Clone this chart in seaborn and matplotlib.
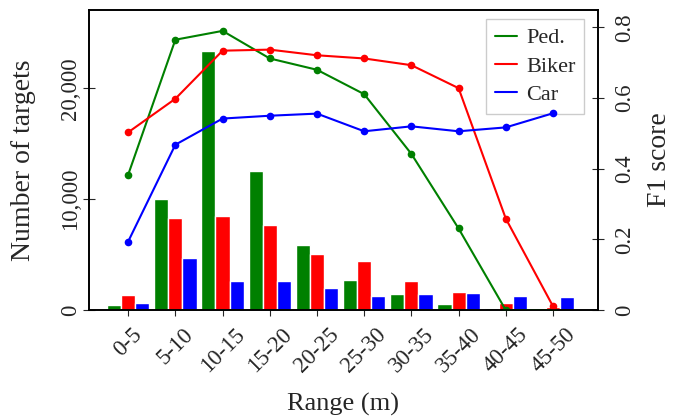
import matplotlib
matplotlib.use("Agg")
import matplotlib.pyplot as plt
from matplotlib.lines import Line2D
from matplotlib.ticker import FuncFormatter
import numpy as np
import pandas as pd
import seaborn as sns

ranges = ["0-5", "5-10", "10-15", "15-20", "20-25", "25-30", "30-35", "35-40", "40-45", "45-50"]
classes = ["Ped.", "Biker", "Car"]
colors = ["green", "red", "blue"]

# number of targets per range bin
ped_counts = [480, 10000, 23400, 12500, 5850, 2700, 1450, 550, 200, 0]
biker_counts = [1350, 8350, 8450, 7650, 5100, 4400, 2600, 1650, 650, 300]
car_counts = [650, 4700, 2600, 2600, 2000, 1300, 1450, 1550, 1300, 1200]

# F1 score per range bin
ped_f1 = [0.383, 0.765, 0.79, 0.712, 0.68, 0.611, 0.442, 0.231, 0.0, 0.0]
biker_f1 = [0.503, 0.598, 0.734, 0.737, 0.721, 0.712, 0.693, 0.628, 0.259, 0.011]
car_f1 = [0.194, 0.468, 0.542, 0.55, 0.556, 0.506, 0.52, 0.506, 0.517, 0.557]

counts = pd.DataFrame({"range": ranges * 3,
                       "cls": np.repeat(classes, len(ranges)),
                       "targets": ped_counts + biker_counts + car_counts})
f1 = pd.DataFrame({"pos": list(range(len(ranges))) * 3,
                   "cls": np.repeat(classes, len(ranges)),
                   "f1": ped_f1 + biker_f1 + car_f1})

sns.set_style("ticks")
plt.rcParams["font.family"] = ["Liberation Serif", "DejaVu Serif"]
plt.rcParams["font.size"] = 16

fig = plt.figure(figsize=(6.74, 4.18), dpi=100)
ax = fig.add_axes([0.132, 0.258, 0.755, 0.718])
sns.barplot(data=counts, x="range", y="targets", hue="cls", hue_order=classes,
            palette=colors, width=0.9, saturation=1, legend=False, ax=ax)
ax.set_xlim(-0.83, 9.95)
ax.set_ylim(0, 27050)
ax.set_yticks([0, 10000, 20000])
ax.yaxis.set_major_formatter(FuncFormatter(lambda v, p: f"{int(v):,}"))
ax.set_xlabel("Range (m)", fontsize=19, labelpad=12)
ax.set_ylabel("Number of targets", fontsize=20, labelpad=17)
ax.tick_params(axis="y", direction="inout", length=8, labelsize=16.5, labelrotation=90, pad=2)
ax.tick_params(axis="x", direction="out", length=4, labelsize=16.5, pad=6)
for lab in ax.get_yticklabels():
    lab.set_va("center")
for lab in ax.get_xticklabels():
    lab.set_rotation(45)
    lab.set_ha("center")

# legend sits on the bar axes so the F1 lines are drawn over it
handles = [Line2D([0], [0], color=c, lw=1.5) for c in colors]
leg = ax.legend(handles, classes, loc="upper right", fontsize=16, handlelength=1.0,
                handletextpad=0.4, borderpad=0.4, labelspacing=0.35, fancybox=False,
                framealpha=1, bbox_to_anchor=(0.995, 1.007))
leg.get_frame().set_edgecolor("#cccccc")

ax2 = ax.twinx()
sns.lineplot(data=f1, x="pos", y="f1", hue="cls", hue_order=classes, palette=colors,
             marker="o", markersize=5.5, markeredgewidth=0, linewidth=1.5,
             legend=False, ax=ax2)
ax2.set_ylim(0, 0.849)
ax2.set_yticks([0, 0.2, 0.4, 0.6, 0.8])
ax2.yaxis.set_major_formatter(FuncFormatter(lambda v, p: "0" if v == 0 else f"{v:.1f}"))
ax2.set_ylabel("F1 score", fontsize=20, labelpad=8)
ax2.tick_params(axis="y", direction="inout", length=8, labelsize=16.5, labelrotation=90, pad=8)
for lab in ax2.get_yticklabels():
    lab.set_va("center")

for a in (ax, ax2):
    for s in a.spines.values():
        s.set_visible(True)
        s.set_color("black")
        s.set_linewidth(1.2)

fig.savefig("out.png", dpi=100)
